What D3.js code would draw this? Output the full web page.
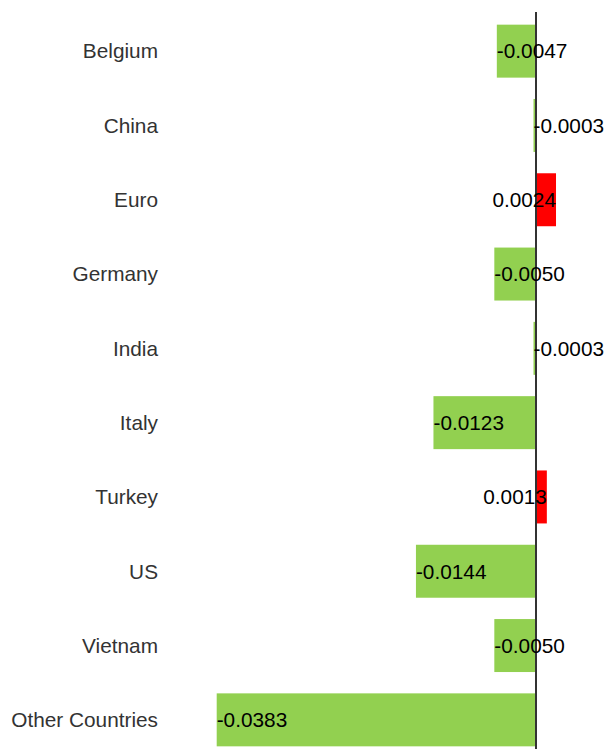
<!DOCTYPE html>
<html>
<head>
<meta charset="utf-8">
<script src="https://cdn.jsdelivr.net/npm/d3@7"></script>
<style>
  body { margin: 0; background: #fff; }
  svg { display: block; font-family: "Liberation Sans", Arial, sans-serif; }
</style>
</head>
<body>
<svg id="chart" width="607" height="749"></svg>
<script>
// chart data
const countries = ['Belgium', 'China', 'Euro', 'Germany', 'India', 'Italy', 'Turkey', 'US', 'Vietnam', 'Other Countries'];
const values = [-0.0047, -0.0003, 0.0024, -0.0050, -0.0003, -0.0123, 0.0013, -0.0144, -0.0050, -0.0383];

const data = countries.map((c, i) => ({ country: c, value: values[i] }));

const svg = d3.select('#chart');
const width = 607, height = 749;

// x scale: zero line sits at ~536px
const xScale = d3.scaleLinear()
  .domain([-0.0383, 0])
  .range([216.7, 536]);

const yScale = d3.scaleBand()
  .domain(countries)
  .range([13, 758])
  .paddingInner(0.287)
  .paddingOuter(0.157);

// bars
svg.append('g')
  .selectAll('rect')
  .data(data)
  .join('rect')
  .attr('x', d => xScale(Math.min(0, d.value)))
  .attr('y', d => yScale(d.country))
  .attr('width', d => Math.abs(xScale(d.value) - xScale(0)))
  .attr('height', yScale.bandwidth())
  .attr('fill', d => d.value < 0 ? '#92d050' : '#ff0000');

// zero line
svg.append('line')
  .attr('x1', xScale(0))
  .attr('x2', xScale(0))
  .attr('y1', 12)
  .attr('y2', height)
  .attr('stroke', '#333')
  .attr('stroke-width', 2);

// category labels
svg.append('g')
  .selectAll('text')
  .data(data)
  .join('text')
  .attr('x', 158)
  .attr('y', d => yScale(d.country) + yScale.bandwidth() / 2)
  .attr('dy', '0.35em')
  .attr('text-anchor', 'end')
  .attr('fill', '#333')
  .style('font-size', '20.8px')
  .text(d => d.country);

// value labels
svg.append('g')
  .selectAll('text')
  .data(data)
  .join('text')
  .attr('x', d => xScale(d.value))
  .attr('y', d => yScale(d.country) + yScale.bandwidth() / 2)
  .attr('dy', '0.35em')
  .attr('text-anchor', d => d.value < 0 ? 'start' : 'end')
  .attr('fill', '#000')
  .style('font-size', '20.8px')
  .text(d => d.value.toFixed(4));
</script>
</body>
</html>
